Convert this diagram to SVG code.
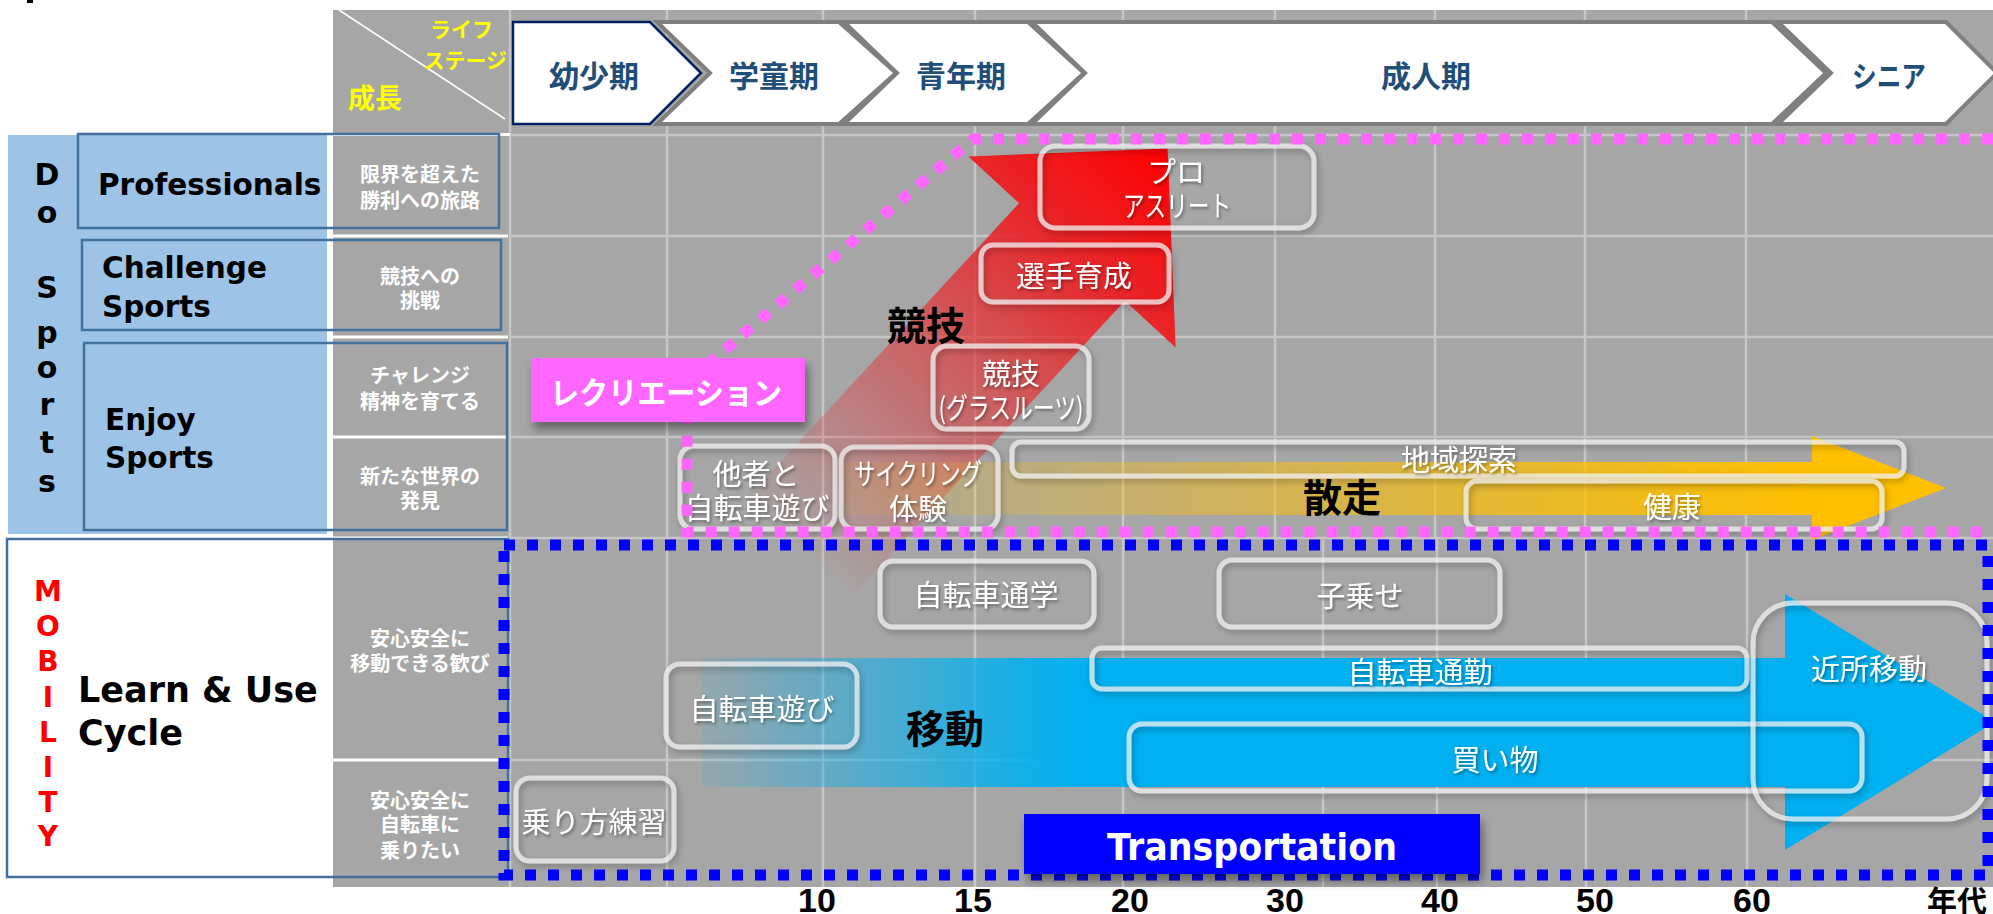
<svg xmlns="http://www.w3.org/2000/svg" width="1993" height="914" viewBox="0 0 1993 914">
<style>
.gl{stroke:#C6C6C6;stroke-width:2.5;fill:none}
.wl{stroke:#FFFFFF;stroke-width:3;fill:none}
.chv{fill:#FFFFFF;stroke:#7F7F7F;stroke-width:4}
.ct{font-family:"Noto Sans CJK JP",sans-serif;font-weight:bold;font-size:30px;fill:#1F4E79;text-anchor:middle;dominant-baseline:central}
.yl{font-family:"Noto Sans CJK JP",sans-serif;font-weight:bold;fill:#FFFF00}
.lab{font-family:"Noto Sans CJK JP",sans-serif;font-weight:bold;font-size:20px;fill:#FFFFFF;text-anchor:middle;dominant-baseline:central}
.ol{fill:none;stroke:#41719C;stroke-width:2.5}
.en{font-family:"DejaVu Sans",sans-serif;font-weight:bold;fill:#000000}
.vl{font-family:"DejaVu Sans",sans-serif;font-weight:bold;font-size:30px;fill:#000000;text-anchor:middle}
.mb{font-family:"DejaVu Sans",sans-serif;font-weight:bold;font-size:28px;fill:#FF0000;text-anchor:middle}
.bx{fill:none;stroke:#F2F2F2;stroke-opacity:0.75;stroke-width:5}
.bt{font-family:"Noto Sans CJK JP",sans-serif;font-size:29px;fill:#FFFFFF;text-anchor:middle;dominant-baseline:central}
.big{font-family:"Noto Sans CJK JP",sans-serif;font-weight:bold;font-size:39px;fill:#000000;text-anchor:middle;dominant-baseline:central}
.yr{font-family:"Liberation Sans",sans-serif;font-weight:bold;font-size:34px;fill:#000000;text-anchor:middle}
.dotp{fill:none;stroke:#FF66FF;stroke-width:11;stroke-dasharray:11 12}
.dotb{fill:none;stroke:#0000FF;stroke-width:11;stroke-dasharray:11 12}
</style>
<defs>
<filter id="sh" x="-10%" y="-20%" width="125%" height="150%"><feDropShadow dx="2" dy="3" stdDeviation="3" flood-color="#000" flood-opacity="0.35"/></filter>
<filter id="ts" x="-10%" y="-20%" width="125%" height="150%"><feDropShadow dx="1.5" dy="2" stdDeviation="1.5" flood-color="#000" flood-opacity="0.4"/></filter>
<filter id="sh2" x="-10%" y="-20%" width="125%" height="170%"><feDropShadow dx="3" dy="7" stdDeviation="5" flood-color="#000" flood-opacity="0.4"/></filter>
<linearGradient id="gr" gradientUnits="userSpaceOnUse" x1="-400" y1="0" x2="141" y2="0">
<stop offset="0" stop-color="#E04040" stop-opacity="0.03"/>
<stop offset="0.74" stop-color="#E8262A" stop-opacity="1"/>
<stop offset="1" stop-color="#FF0000" stop-opacity="1"/>
</linearGradient>
<linearGradient id="go" gradientUnits="userSpaceOnUse" x1="840" y1="0" x2="1946" y2="0">
<stop offset="0" stop-color="#FFC000" stop-opacity="0.08"/>
<stop offset="0.88" stop-color="#FFC000" stop-opacity="1"/>
<stop offset="1" stop-color="#FFC000" stop-opacity="1"/>
</linearGradient>
<linearGradient id="gb" gradientUnits="userSpaceOnUse" x1="701" y1="0" x2="1995" y2="0">
<stop offset="0" stop-color="#00B0F0" stop-opacity="0.1"/>
<stop offset="0.29" stop-color="#00B0F0" stop-opacity="1"/>
<stop offset="1" stop-color="#00B0F0" stop-opacity="1"/>
</linearGradient>
</defs>
<rect x="0" y="0" width="1993" height="914" fill="#FFFFFF"/>
<rect x="27" y="0" width="6" height="3" fill="#000000"/>

<g id="background">
<rect x="8" y="135" width="319" height="399" fill="#9DC3E6"/>
<rect x="333" y="10" width="1660" height="877" fill="#A6A6A6"/>
</g>

<g id="grid">
<path class="gl" d="M510,10V887 M667,10V540 M823,10V540 M975,10V540 M1123,10V540 M1275,10V540 M1435,10V540 M1585,10V540 M1746,10V540"/>
<path class="gl" d="M667,540V887 M823,540V887 M975,540V887 M1123,540V887 M1323,540V887 M1437,540V887 M1586,540V887 M1747,540V887"/>
<path class="gl" d="M510,135H1993 M510,236H1993 M510,337H1993 M510,437H1993 M510,538H1993 M510,760H1993"/>
<path class="wl" d="M333,134.5H510 M333,236H508 M333,337H508 M333,437H508 M333,538H508 M333,760H508"/>
</g>

<g id="header">
<line x1="339" y1="10" x2="505" y2="119" stroke="#FFFFFF" stroke-width="1.5"/>
<text class="yl" x="493" y="37" font-size="21" text-anchor="end">ライフ</text>
<text class="yl" x="507" y="68" font-size="21" text-anchor="end">ステージ</text>
<text class="yl" x="348" y="108" font-size="27">成長</text>
</g>

<g id="stage-youshou">
<polygon points="513,22 650,22 701,73 650,124 513,124" fill="#FFFFFF" stroke="#002060" stroke-width="2.5"/>
<text class="ct" x="594" y="74">幼少期</text>
</g>
<g id="stage-gakudou">
<polygon class="chv" points="657,22 839,22 896,73 839,124 657,124 710,73"/>
<text class="ct" x="774" y="74">学童期</text>
</g>
<g id="stage-seinen">
<polygon class="chv" points="844,22 1028,22 1084,73 1028,124 844,124 897,73"/>
<text class="ct" x="961" y="74">青年期</text>
</g>
<g id="stage-seijin">
<polygon class="chv" points="1032,22 1772,22 1826,73 1772,124 1032,124 1085,73"/>
<text class="ct" x="1426" y="74">成人期</text>
</g>
<g id="stage-senior">
<polygon class="chv" points="1778,22 1946,22 1997,73 1946,124 1778,124 1831,73" fill="#FFC000"/>
<text class="ct" x="1889" y="74" textLength="74" lengthAdjust="spacingAndGlyphs">シニア</text>
</g>

<g id="row-labels">
<text class="lab" x="420" y="173">限界を超えた</text>
<text class="lab" x="420" y="199">勝利への旅路</text>
<text class="lab" x="420" y="275">競技への</text>
<text class="lab" x="420" y="299">挑戦</text>
<text class="lab" x="420" y="374">チャレンジ</text>
<text class="lab" x="420" y="400">精神を育てる</text>
<text class="lab" x="420" y="475">新たな世界の</text>
<text class="lab" x="420" y="499">発見</text>
<text class="lab" x="420" y="637">安心安全に</text>
<text class="lab" x="420" y="662">移動できる歓び</text>
<text class="lab" x="420" y="799">安心安全に</text>
<text class="lab" x="420" y="823">自転車に</text>
<text class="lab" x="420" y="849">乗りたい</text>
</g>

<g id="do-sports">
<text class="vl" x="47" y="185">D</text>
<text class="vl" x="47" y="223">o</text>
<text class="vl" x="47" y="298">S</text>
<text class="vl" x="47" y="343">p</text>
<text class="vl" x="47" y="378">o</text>
<text class="vl" x="47" y="415">r</text>
<text class="vl" x="47" y="453">t</text>
<text class="vl" x="47" y="492">s</text>
</g>
<g id="professionals">
<rect class="ol" x="78" y="134" width="421" height="94"/>
<text class="en" x="98" y="195" font-size="29.5">Professionals</text>
</g>
<g id="challenge-sports">
<rect class="ol" x="82" y="240" width="419" height="90"/>
<text class="en" x="102" y="278" font-size="29.5">Challenge</text>
<text class="en" x="102" y="317" font-size="29.5">Sports</text>
</g>
<g id="enjoy-sports">
<rect class="ol" x="84" y="343" width="423" height="187"/>
<text class="en" x="105" y="430" font-size="29.5">Enjoy</text>
<text class="en" x="105" y="468" font-size="29.5">Sports</text>
</g>
<g id="mobility">
<rect class="ol" x="7" y="539" width="501" height="338"/>
<text class="mb" x="48" y="601">M</text>
<text class="mb" x="48" y="636">O</text>
<text class="mb" x="48" y="671">B</text>
<text class="mb" x="48" y="707">I</text>
<text class="mb" x="48" y="742">L</text>
<text class="mb" x="48" y="777">I</text>
<text class="mb" x="48" y="812">T</text>
<text class="mb" x="48" y="846">Y</text>
<text class="en" x="78" y="702" font-size="35">Learn &amp; Use</text>
<text class="en" x="78" y="745" font-size="35">Cycle</text>
</g>

<g id="connectors">
<polygon id="arrow-kyougi" transform="translate(1072,252) rotate(-47.3)" points="141,0 0,141 0,72 -400,72 -400,-72 0,-72 0,-141" fill="url(#gr)"/>
<polygon id="arrow-sansou" points="840,462 1812,462 1812,436 1946,488 1812,540 1812,515 840,515" fill="url(#go)"/>
<polygon id="arrow-idou" points="701,658 1785,658 1785,594 1995,722 1785,850 1785,787 701,787" fill="url(#gb)"/>
</g>

<g id="node-pro">
<rect class="bx" x="1040" y="146" width="274" height="82" rx="15" filter="url(#sh)"/>
<text class="bt" x="1176" y="170" font-size="25" filter="url(#ts)">プロ</text>
<text class="bt" x="1177" y="204" font-size="25" textLength="108" lengthAdjust="spacingAndGlyphs" filter="url(#ts)">アスリート</text>
</g>
<g id="node-senshu">
<rect class="bx" x="981" y="245" width="188" height="57" rx="12" filter="url(#sh)"/>
<text class="bt" x="1074" y="274" font-size="28.5" filter="url(#ts)">選手育成</text>
</g>
<g id="node-grassroots">
<rect class="bx" x="933" y="346" width="156" height="83" rx="14" filter="url(#sh)"/>
<text class="bt" x="1011" y="372" font-size="28" filter="url(#ts)">競技</text>
<text class="bt" x="1011" y="406" font-size="26" textLength="145" lengthAdjust="spacingAndGlyphs" filter="url(#ts)">(グラスルーツ)</text>
</g>
<g id="node-tasha">
<rect class="bx" x="680" y="446" width="155" height="83" rx="14" filter="url(#sh)"/>
<text class="bt" x="756" y="472" filter="url(#ts)">他者と</text>
<text class="bt" x="757" y="506" font-size="28.5" filter="url(#ts)">自転車遊び</text>
</g>
<g id="node-cycling">
<rect class="bx" x="841" y="447" width="157" height="82" rx="14" filter="url(#sh)"/>
<text class="bt" x="918" y="472" textLength="128" lengthAdjust="spacingAndGlyphs" filter="url(#ts)">サイクリング</text>
<text class="bt" x="918" y="507" filter="url(#ts)">体験</text>
</g>
<g id="node-chiiki">
<rect class="bx" x="1012" y="442" width="892" height="34" rx="9" filter="url(#sh)"/>
<text class="bt" x="1459" y="458" font-size="30" filter="url(#ts)">地域探索</text>
</g>
<g id="node-kenkou">
<rect class="bx" x="1466" y="481" width="416" height="48" rx="11" filter="url(#sh)"/>
<text class="bt" x="1672" y="505" font-size="30" filter="url(#ts)">健康</text>
</g>
<g id="node-tsuugaku">
<rect class="bx" x="880" y="561" width="214" height="66" rx="13" filter="url(#sh)"/>
<text class="bt" x="986" y="593" font-size="30" filter="url(#ts)">自転車通学</text>
</g>
<g id="node-konose">
<rect class="bx" x="1219" y="560" width="281" height="67" rx="13" filter="url(#sh)"/>
<text class="bt" x="1360" y="594" font-size="30" filter="url(#ts)">子乗せ</text>
</g>
<g id="node-asobi">
<rect class="bx" x="666" y="664" width="191" height="83" rx="14" filter="url(#sh)"/>
<text class="bt" x="762" y="707" font-size="29.5" filter="url(#ts)">自転車遊び</text>
</g>
<g id="node-tsuukin">
<rect class="bx" x="1092" y="648" width="655" height="41" rx="10" filter="url(#sh)"/>
<text class="bt" x="1420" y="670" font-size="30" filter="url(#ts)">自転車通勤</text>
</g>
<g id="node-kaimono">
<rect class="bx" x="1129" y="724" width="733" height="67" rx="13" filter="url(#sh)"/>
<text class="bt" x="1495" y="758" font-size="30" filter="url(#ts)">買い物</text>
</g>
<g id="node-kinjo">
<rect class="bx" x="1753" y="603" width="234" height="216" rx="40" filter="url(#sh)"/>
<text class="bt" x="1869" y="667" font-size="30" filter="url(#ts)">近所移動</text>
</g>
<g id="node-norikata">
<rect class="bx" x="516" y="778" width="158" height="83" rx="14" filter="url(#sh)"/>
<text class="bt" x="594" y="820" font-size="28.5" filter="url(#ts)">乗り方練習</text>
</g>

<g id="regions">
<path class="dotp" d="M1993,139 H973 L687,382 V532 H1993"/>
<rect class="dotb" x="504" y="545" width="1484" height="330"/>
</g>

<g id="label-recreation">
<rect x="531" y="358" width="274" height="64" fill="#FF66FF" filter="url(#sh2)"/>
<text x="666" y="390" font-family="Noto Sans CJK JP, sans-serif" font-weight="bold" font-size="31" fill="#FFFFFF" text-anchor="middle" dominant-baseline="central" textLength="232" lengthAdjust="spacingAndGlyphs">レクリエーション</text>
</g>
<g id="label-transportation">
<rect x="1024" y="814" width="456" height="60" fill="#0000FF" filter="url(#sh2)"/>
<text x="1252" y="860" font-family="DejaVu Sans, sans-serif" font-weight="bold" font-size="38" fill="#FFFFFF" text-anchor="middle" textLength="290" lengthAdjust="spacingAndGlyphs">Transportation</text>
</g>

<g id="labels-big">
<text class="big" x="926" y="323">競技</text>
<text class="big" x="1342" y="495">散走</text>
<text class="big" x="945" y="726">移動</text>
</g>

<g id="axis">
<text class="yr" x="817" y="912">10</text>
<text class="yr" x="973" y="912">15</text>
<text class="yr" x="1130" y="912">20</text>
<text class="yr" x="1285" y="912">30</text>
<text class="yr" x="1440" y="912">40</text>
<text class="yr" x="1595" y="912">50</text>
<text class="yr" x="1752" y="912">60</text>
<text x="1957" y="912" font-family="Noto Sans CJK JP, sans-serif" font-weight="bold" font-size="30" fill="#000000" text-anchor="middle">年代</text>
</g>
</svg>
